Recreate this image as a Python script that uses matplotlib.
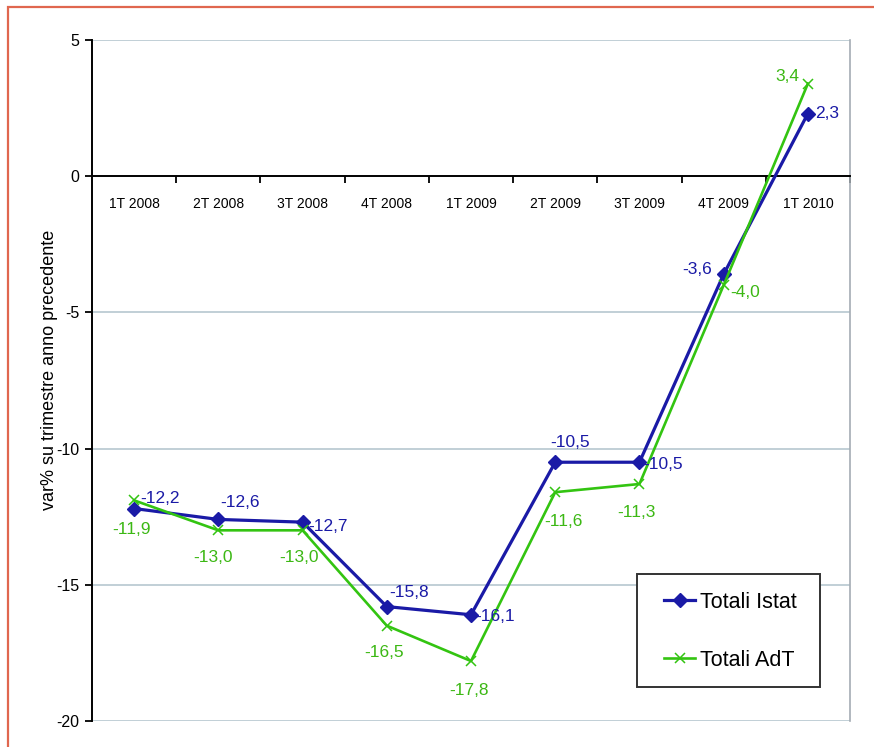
import matplotlib
matplotlib.use("Agg")
import matplotlib.pyplot as plt
from matplotlib.patches import Rectangle

quarters = ["1T 2008", "2T 2008", "3T 2008", "4T 2008", "1T 2009",
            "2T 2009", "3T 2009", "4T 2009", "1T 2010"]
istat = [-12.2, -12.6, -12.7, -15.8, -16.1, -10.5, -10.5, -3.6, 2.3]
adt = [-11.9, -13.0, -13.0, -16.5, -17.8, -11.6, -11.3, -4.0, 3.4]

# label offsets in pixels from each point
istat_off = [(26, 10), (22, 17), (25, -4), (22, 14), (24, -2),
             (15, 20), (24, -2), (-27, 5), (19, 0)]
adt_off = [(-3, -29), (-5, -27), (-4, -27), (-3, -27), (-2, -29),
           (8, -29), (-3, -28), (21, -7), (-21, 7)]

FONT = ["Liberation Sans", "DejaVu Sans"]
BLUE = "#1a1aa6"
GREEN = "#33c411"
GREEN_TXT = "#3cb814"
GRID = "#bccbd3"

W, H = 874, 747
fig = plt.figure(figsize=(W / 100, H / 100), dpi=100)
ax = fig.add_axes([92 / W, 1 - 721 / H, (850 - 92) / W, (721 - 40) / H])

# outer red frame
fig.patches.append(Rectangle((8 / W, -0.1), 1.2, 1 - 7 / H + 0.1,
                             transform=fig.transFigure, fill=False,
                             edgecolor="#e0674f", linewidth=1.6))

x = list(range(len(quarters)))
ax.set_xlim(-0.5, len(quarters) - 0.5)
ax.set_ylim(-20, 5)

for yv in [-20, -15, -10, -5, 5]:
    ax.axhline(yv, color=GRID, linewidth=1.3, zorder=1)

ax.spines["top"].set_visible(False)
ax.spines["right"].set_color("#a4acb4")
ax.spines["right"].set_linewidth(1.2)
ax.spines["left"].set_color("black")
ax.spines["left"].set_linewidth(1.4)
ax.spines["bottom"].set_position(("data", 0))
ax.spines["bottom"].set_color("black")
ax.spines["bottom"].set_linewidth(1.4)

ax.set_yticks([-20, -15, -10, -5, 0, 5])
ax.set_yticklabels(["-20", "-15", "-10", "-5", "0", "5"],
                   family=FONT, fontsize=11.5)
ax.tick_params(axis="y", direction="out", length=5, width=1.3, pad=4)

ax.set_xticks([i + 0.5 for i in x])
ax.set_xticklabels([])
ax.set_xticks(x, minor=True)
ax.set_xticklabels(quarters, minor=True, family=FONT, fontsize=10)
ax.tick_params(axis="x", which="major", direction="out", length=5, width=1.3)
ax.tick_params(axis="x", which="minor", length=0, pad=15)

ax.plot(x, istat, color=BLUE, linewidth=2.3, marker="D", markersize=7,
        label="Totali Istat", zorder=3)
ax.plot(x, adt, color=GREEN, linewidth=1.9, marker="x", markersize=6.5,
        markeredgewidth=1.1, label="Totali AdT", zorder=4)

for xi, v, (dx, dy) in zip(x, istat, istat_off):
    ax.annotate(f"{v:.1f}".replace(".", ","), (xi, v), xytext=(dx, dy),
                textcoords="offset pixels", ha="center", va="center",
                color=BLUE, family=FONT, fontsize=12.5, zorder=5)
for xi, v, (dx, dy) in zip(x, adt, adt_off):
    ax.annotate(f"{v:.1f}".replace(".", ","), (xi, v), xytext=(dx, dy),
                textcoords="offset pixels", ha="center", va="center",
                color=GREEN_TXT, family=FONT, fontsize=12.5, zorder=5)

ax.set_ylabel("var% su trimestre anno precedente", family=FONT,
              fontsize=13)
ax.yaxis.set_label_coords(-0.045, 0.515)

# legend box drawn separately so its padding can be set freely
ax.add_patch(Rectangle((637 / W, 1 - 687 / H), (820 - 637) / W, (687 - 574) / H,
                       transform=fig.transFigure, facecolor="white",
                       edgecolor="#333333", linewidth=1.4, zorder=6,
                       clip_on=False))
leg = ax.legend(loc="upper left", bbox_to_anchor=(664 / W, 1 - 592 / H),
                bbox_transform=fig.transFigure, frameon=False,
                prop={"family": FONT, "size": 15.5}, handlelength=1.45,
                handletextpad=0.2, labelspacing=1.7, borderpad=0,
                borderaxespad=0)
leg.set_zorder(7)

fig.savefig("out.png", dpi=100)
